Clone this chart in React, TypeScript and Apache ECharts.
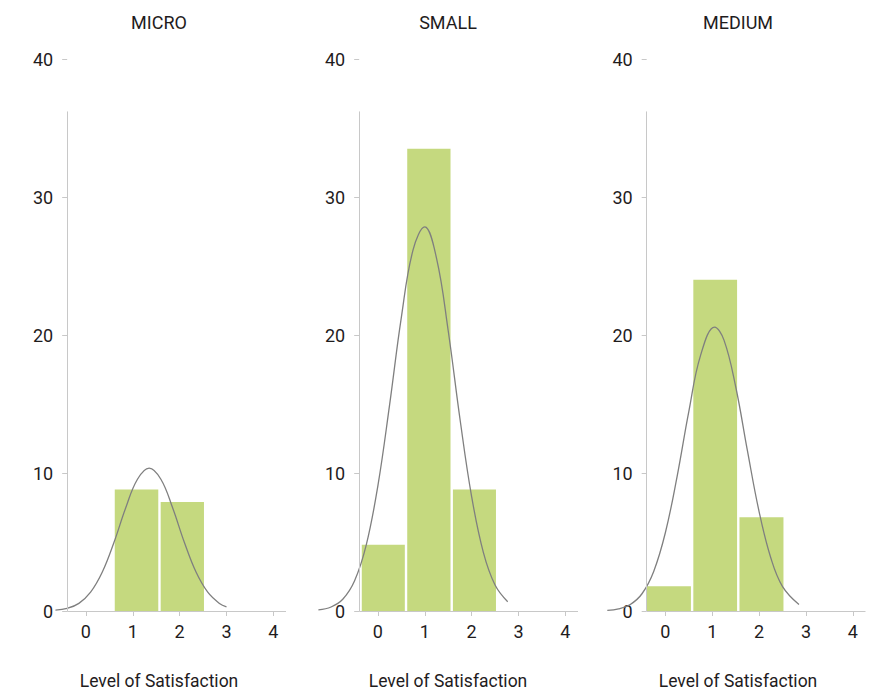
import React, { useEffect, useRef } from "react";
import * as echarts from "echarts";

// ---- Data ----
const panelTitles = ["MICRO", "SMALL", "MEDIUM"];
const xAxisTitle = "Level of Satisfaction";
const xTickValues = [0, 1, 2, 3, 4];

// histogram bin edges and bar heights
const microBinEdges = [0.59, 1.57, 2.545];
const microCounts = [8.8, 7.9];
const smallBinEdges = [-0.37, 0.6, 1.575, 2.545];
const smallCounts = [4.8, 33.5, 8.8];
const mediumBinEdges = [-0.42, 0.57, 1.555, 2.545];
const mediumCounts = [1.8, 24.0, 6.8];

// fitted curve, points
const microCurveX = [-0.65, -0.4, -0.15, 0.1, 0.35, 0.6, 0.85, 1.1, 1.35, 1.6, 1.85, 2.1, 2.35, 2.6, 2.85, 3.0];
const microCurveY = [0.06, 0.19, 0.55, 1.36, 2.82, 4.98, 7.48, 9.55, 10.36, 9.55, 7.48, 4.98, 2.82, 1.36, 0.55, 0.3];
const smallCurveX = [-1.27, -1.0, -0.75, -0.5, -0.25, 0, 0.25, 0.5, 0.75, 1.0, 1.25, 1.5, 1.75, 2.0, 2.25, 2.5, 2.77];
const smallCurveY = [0.08, 0.29, 0.85, 2.17, 4.77, 9.09, 14.96, 21.28, 26.17, 27.83, 25.57, 20.31, 13.95, 8.29, 4.25, 1.88, 0.67];
const mediumCurveX = [-1.24, -1.0, -0.75, -0.5, -0.25, 0, 0.25, 0.5, 0.75, 1.05, 1.25, 1.5, 1.75, 2.0, 2.25, 2.5, 2.85];
const mediumCurveY = [0.05, 0.15, 0.47, 1.25, 2.87, 5.69, 9.76, 14.46, 18.52, 20.57, 19.63, 16.25, 11.62, 7.19, 3.84, 1.77, 0.47];

// axis ranges
const xMin = -1.3; // room for the curve tails left of the y axis
const xMax = 4.27;
const yAxisAt = -0.4; // where the y axis line stands
const yAxisLineTop = 36.2;

const FONT = "Roboto, 'DejaVu Sans', sans-serif";
const TEXT = "#1f1c1d";
const AXIS = "#c8c8c8";
const BAR = "#c5d97f";
const CURVE = "#7f7f7f";

const panels = [
  { edges: microBinEdges, counts: microCounts, cx: microCurveX, cy: microCurveY },
  { edges: smallBinEdges, counts: smallCounts, cx: smallCurveX, cy: smallCurveY },
  { edges: mediumBinEdges, counts: mediumCounts, cx: mediumCurveX, cy: mediumCurveY },
];

// layout (pixels)
const gridLefts = [25, 317, 604.5];
const gridWidth = 261;
const gridTop = 59;
const gridBottom = 86;
const titleCenters = [159, 448, 738];

export default function App() {
  const ref = useRef<HTMLDivElement>(null);
  useEffect(() => {
    if (!ref.current) return;
    const chart = echarts.init(ref.current, null, { renderer: "svg" });
    const yOffset = -((yAxisAt - xMin) / (xMax - xMin)) * gridWidth;

    const grid = gridLefts.map((l) => ({ left: l, width: gridWidth, top: gridTop, bottom: gridBottom }));
    const xAxis = gridLefts.map((l, i) => ({
      type: "value",
      gridIndex: i,
      min: xMin,
      max: xMax,
      axisLine: { show: false },
      axisTick: { show: true, length: 5, lineStyle: { color: AXIS }, customValues: xTickValues },
      axisLabel: {
        customValues: xTickValues,
        fontFamily: FONT,
        fontSize: 18,
        color: TEXT,
        margin: 11,
      },
      splitLine: { show: false },
      name: xAxisTitle,
      nameLocation: "middle",
      nameGap: 61,
      nameTextStyle: {
        fontFamily: FONT,
        fontSize: 17.5,
        color: TEXT,
        padding: [0, (l + gridWidth / 2 - titleCenters[i]) * 2, 0, 0],
      },
    }));
    const yAxis = gridLefts.map((_, i) => ({
      type: "value",
      gridIndex: i,
      min: 0,
      max: 40,
      interval: 10,
      offset: yOffset,
      axisLine: { show: false, onZero: false },
      axisTick: { show: true, length: 5, lineStyle: { color: AXIS } },
      axisLabel: { fontFamily: FONT, fontSize: 18, color: TEXT, margin: 14 },
      splitLine: { show: false },
    }));

    const series: any[] = [];
    panels.forEach((p, i) => {
      const binData = p.counts.map((c, k) => [p.edges[k], p.edges[k + 1], c]);
      series.push({
        type: "custom",
        xAxisIndex: i,
        yAxisIndex: i,
        data: binData,
        encode: { x: [0, 1], y: 2 },
        renderItem: (params: any, api: any) => {
          const a = api.coord([api.value(0), api.value(2)]);
          const b = api.coord([api.value(1), 0]);
          return {
            type: "rect",
            shape: { x: a[0] + 1.2, y: a[1], width: b[0] - a[0] - 2.4, height: b[1] - a[1] },
            style: { fill: BAR },
          };
        },
        z: 2,
      });
      series.push({
        type: "line",
        xAxisIndex: i,
        yAxisIndex: i,
        data: p.cx.map((x, k) => [x, p.cy[k]]),
        smooth: 0.4,
        showSymbol: false,
        symbol: "none",
        lineStyle: { color: CURVE, width: 1.3 },
        z: 3,
        markLine: {
          silent: true,
          symbol: "none",
          label: { show: false },
          lineStyle: { color: AXIS, width: 1, type: "solid" },
          data: [
            [{ coord: [yAxisAt, 0] }, { coord: [yAxisAt, yAxisLineTop] }],
            [{ coord: [yAxisAt, 0] }, { coord: [xMax, 0] }],
          ],
        },
      });
    });

    chart.setOption({
      animation: false,
      backgroundColor: "#ffffff",
      grid,
      xAxis,
      yAxis,
      series,
      graphic: panelTitles.map((t, i) => ({
        type: "text",
        x: titleCenters[i],
        y: 22,
        style: {
          text: t,
          align: "center",
          verticalAlign: "middle",
          fontFamily: FONT,
          fontSize: 18,
          fill: TEXT,
        },
      })),
    });
    return () => chart.dispose();
  }, []);
  return (
    <div
      ref={ref}
      style={{ position: "absolute", left: 0, top: 0, width: 871, height: 697 }}
    />
  );
}
